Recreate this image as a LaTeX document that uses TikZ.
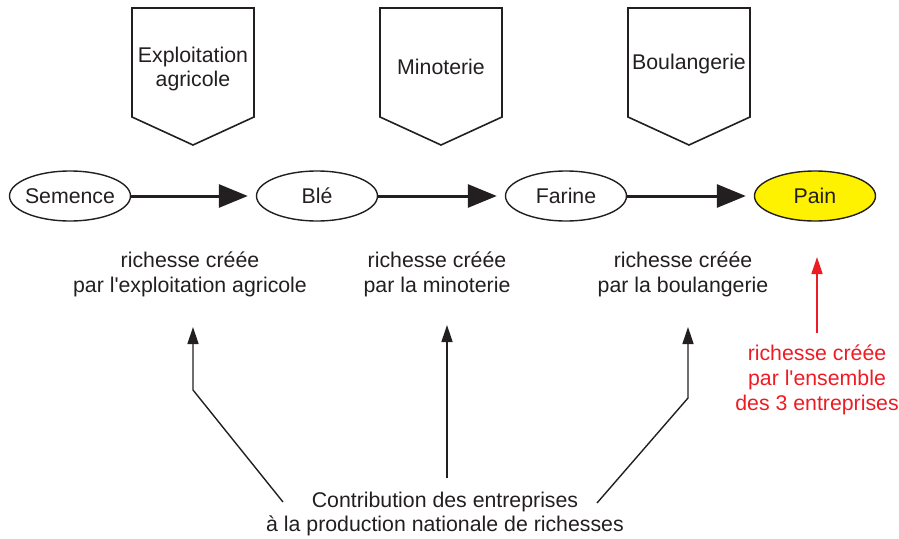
\documentclass[tikz,border=0pt]{standalone}
\usepackage{fontspec}
\setmainfont{Liberation Sans}
\usetikzlibrary{arrows.meta,shapes.geometric}
\definecolor{ink}{HTML}{231F20}
\definecolor{painyellow}{HTML}{FFF200}
\definecolor{redtxt}{HTML}{ED1C24}
\begin{document}
\begin{tikzpicture}[x=1pt,y=-1pt,
  every node/.style={font=\fontsize{21.3}{24.8}\selectfont, text=ink},
  prod/.style={draw=ink, line width=1.4pt, ellipse, minimum width=121pt, minimum height=50pt, inner xsep=-12pt, inner ysep=0pt},
  flow/.style={draw=ink, line width=3pt, -{Triangle[length=29pt,width=23pt]}, shorten >=8pt},
  contrib/.style={draw=ink, line width=1.4pt, line join=miter, -{Triangle[length=17pt,width=11pt]}},
  firm/.style={draw=ink, line width=1.6pt, fill=white, line join=miter},
  lbl/.style={align=center, inner sep=0pt}
]
\useasboundingbox (0,0) rectangle (899,538);

% firms (pentagons)
\foreach \cx in {193,441,689}{
  \draw[firm] (\cx-61,8) -- (\cx+61,8) -- (\cx+61,117) -- (\cx,145) -- (\cx-61,117) -- cycle;
}
\node[lbl] (f1) at (193,69) {Exploitation\\agricole};
\node[lbl] (f2) at (441,67) {Minoterie};
\node[lbl] (f3) at (689,64) {Boulangerie};

% products
\node[prod] (sem) at (70,196) {Semence};
\node[prod] (ble) at (317,196) {Blé};
\node[prod] (far) at (566,196) {Farine};
\node[prod, fill=painyellow] (pain) at (815,196) {Pain};

\draw[flow] (sem) -- (ble);
\draw[flow] (ble) -- (far);
\draw[flow] (far) -- (pain);

% value added labels
\node[lbl] (w1) at (190,274) {richesse créée\\par l\textquotesingle exploitation agricole};
\node[lbl] (w2) at (437,274) {richesse créée\\par la minoterie};
\node[lbl] (w3) at (683,274) {richesse créée\\par la boulangerie};

% total
\node[lbl, text=redtxt] (tot) at (817,380) {richesse créée\\par l\textquotesingle ensemble\\des 3 entreprises};
\coordinate (rb) at (817,333);
\coordinate (rt) at (817,257);
\draw[contrib, draw=redtxt, fill=redtxt] (rb) -- (rt);

% contribution
\node[lbl] (contr) at (445,514) {Contribution des entreprises\\à la production nationale de richesses};
\coordinate (b1) at (283,502);
\coordinate (k1) at (193,390);
\coordinate (t1) at (193,327);
\coordinate (b2) at (447,478);
\coordinate (t2) at (447,325);
\coordinate (b3) at (597,503);
\coordinate (k3) at (688,398);
\coordinate (t3) at (688,327);
\draw[contrib] (b1) -- (k1) -- (t1);
\draw[contrib] (b2) -- (t2);
\draw[contrib] (b3) -- (k3) -- (t3);
\end{tikzpicture}
\end{document}
